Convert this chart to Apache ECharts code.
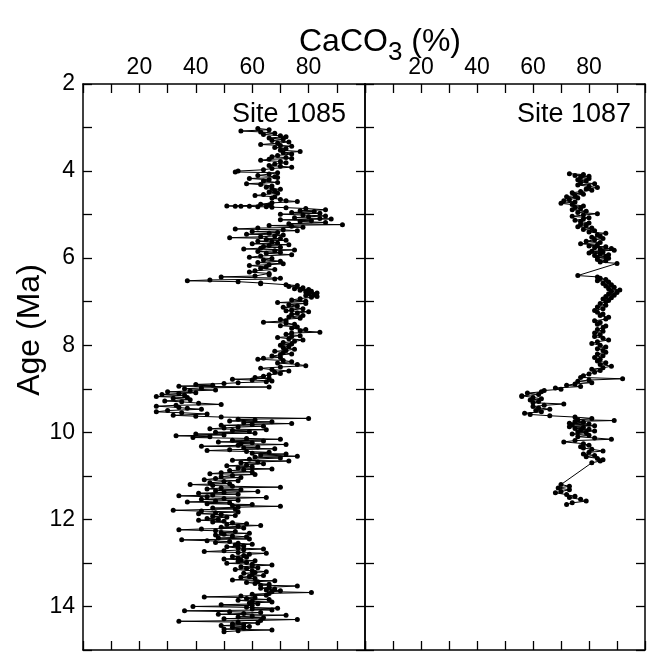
<!DOCTYPE html>
<html><head><meta charset="utf-8">
<script src="https://cdn.jsdelivr.net/npm/echarts@6/dist/echarts.min.js"></script>
<style>html,body{margin:0;padding:0;background:#fff}#c{width:648px;height:653px}</style>
</head><body><div id="c"></div>
<script>
// Tick labels
var xTickLabels = [20, 40, 60, 80];
var yTickLabels = [2, 4, 6, 8, 10, 12, 14];
var siteNames = ['Site 1085', 'Site 1087'];

// Site 1085: [age (Ma), CaCO3 (%)]
var site1085 = [
[3.02,62],[3.05,66],[3.08,56],[3.10,63],[3.13,68],[3.16,64],[3.19,70],[3.21,72],[3.24,66],[3.27,71],[3.30,67],[3.33,73],[3.36,69],[3.39,63],[3.41,70],[3.43,74],[3.46,68],[3.49,72],[3.52,70],[3.55,77],[3.58,71],[3.61,74],[3.64,69],[3.67,67],[3.69,72],[3.71,74],[3.73,66],[3.75,63],[3.78,70],[3.81,72],[3.84,68],[3.87,66],[3.89,70],[3.91,74],[3.94,67],[3.97,64],[4.00,55],[4.02,54],[4.04,69],[4.07,66],[4.10,62],[4.13,68],[4.15,69],[4.17,59],[4.20,66],[4.23,64],[4.26,69],[4.29,58],[4.31,63],[4.34,67],[4.37,65],[4.40,67],[4.42,70],[4.45,68],[4.48,66],[4.51,69],[4.54,64],[4.56,61],[4.59,68],[4.62,67],[4.65,70],[4.68,72],[4.70,76],[4.73,67],[4.76,63],[4.78,66],
[4.80,51],[4.81,54],[4.81,56],[4.81,59],[4.82,62],[4.82,65],[4.83,67],[4.84,72],[4.86,79],[4.89,86],[4.91,77],[4.93,82],[4.95,74],[4.97,84],[4.99,70],[5.01,78],[5.03,86],[5.05,80],[5.07,75],[5.09,84],[5.10,88],[5.12,70],[5.14,81],[5.16,77],[5.18,86],[5.21,73],[5.23,92],[5.25,66],[5.27,74],[5.29,78],[5.31,62],[5.33,54],[5.35,71],[5.37,76],[5.39,60],[5.41,69],[5.43,66],[5.45,58],[5.47,71],[5.49,68],[5.51,63],[5.53,52],[5.55,70],[5.57,65],[5.59,72],[5.61,62],[5.63,67],[5.65,69],[5.67,60],[5.69,73],[5.71,66],[5.73,64],[5.75,70],[5.77,63],[5.79,57],[5.81,75],[5.83,68],[5.85,62],[5.87,70],[5.89,65],[5.92,74],[5.95,63],[5.98,59],
[6.01,67],[6.04,64],[6.07,70],[6.10,62],[6.13,71],[6.15,66],[6.17,59],[6.20,65],[6.23,63],[6.26,68],[6.29,61],[6.32,59],[6.35,66],[6.38,66],[6.41,61],[6.43,49],[6.46,70],[6.48,68],[6.50,45],[6.52,37],[6.54,55],[6.57,63],[6.59,63],[6.61,72],[6.63,76],[6.65,73],[6.68,78],[6.70,75],[6.72,80],[6.74,77],[6.76,81],[6.78,79],[6.80,83],[6.82,80],[6.84,82],[6.86,79],[6.88,83],[6.90,81],[6.93,77],[6.96,74],[6.99,79],
[7.02,69],[7.04,79],[7.07,73],[7.10,76],[7.13,71],[7.16,78],[7.19,74],[7.21,72],[7.23,80],[7.26,76],[7.29,74],[7.32,78],[7.35,73],[7.38,77],[7.41,70],[7.44,72],[7.47,64],[7.49,72],[7.52,75],[7.55,70],[7.58,76],[7.61,74],[7.64,79],[7.67,77],[7.70,84],[7.72,74],[7.75,72],[7.78,77],[7.80,74],[7.82,69],[7.85,73],[7.88,78],[7.91,75],[7.94,71],[7.97,74],
[8.00,70],[8.03,73],[8.06,71],[8.09,75],[8.12,72],[8.14,68],[8.17,71],[8.20,74],[8.22,70],[8.25,67],[8.28,70],[8.30,64],[8.32,62],[8.35,71],[8.38,74],[8.41,69],[8.44,76],[8.47,79],[8.50,70],[8.53,63],[8.56,67],[8.59,73],[8.62,68],[8.65,70],[8.68,66],[8.71,64],[8.74,61],[8.76,66],[8.78,53],[8.80,60],[8.82,67],[8.84,65],[8.86,55],[8.88,50],[8.90,40],[8.92,46],[8.94,34],[8.96,66],[8.98,42],
[9.00,36],[9.03,47],[9.05,38],[9.07,30],[9.09,40],[9.11,34],[9.13,28],[9.15,36],[9.18,26],[9.20,37],[9.22,32],[9.25,38],[9.28,29],[9.30,35],[9.33,41],[9.36,49],[9.38,33],[9.40,26],[9.43,34],[9.45,37],[9.47,42],[9.50,30],[9.53,26],[9.55,35],[9.58,44],[9.61,32],[9.63,40],[9.65,49],[9.68,80],[9.70,55],[9.72,61],[9.74,52],[9.76,67],[9.78,57],[9.80,74],[9.82,60],[9.84,49],[9.86,64],[9.88,55],[9.90,50],[9.92,45],[9.94,65],[9.96,53],[9.98,59],
[10.00,47],[10.02,61],[10.04,40],[10.06,50],[10.08,33],[10.10,45],[10.12,39],[10.14,58],[10.16,70],[10.18,53],[10.20,64],[10.22,48],[10.24,60],[10.26,56],[10.28,72],[10.30,55],[10.32,42],[10.34,62],[10.36,57],[10.38,68],[10.40,52],[10.42,44],[10.44,58],[10.46,66],[10.48,60],[10.50,72],[10.52,63],[10.55,76],[10.57,61],[10.59,70],[10.62,59],[10.64,53],[10.66,73],[10.68,62],[10.70,56],[10.72,64],[10.75,58],[10.77,51],[10.79,60],[10.82,55],[10.84,67],[10.86,57],[10.88,52],[10.91,60],[10.93,49],[10.95,45],[10.97,61],[10.99,53],
[11.02,49],[11.04,56],[11.06,47],[11.09,43],[11.11,55],[11.13,50],[11.16,45],[11.18,52],[11.20,38],[11.22,46],[11.24,53],[11.26,70],[11.28,49],[11.30,44],[11.32,56],[11.34,47],[11.36,62],[11.38,50],[11.40,41],[11.42,55],[11.44,46],[11.46,34],[11.48,44],[11.50,65],[11.52,50],[11.54,42],[11.56,55],[11.58,47],[11.60,37],[11.62,52],[11.64,44],[11.66,60],[11.68,53],[11.70,70],[11.72,55],[11.74,46],[11.76,54],[11.79,32],[11.81,42],[11.83,55],[11.85,47],[11.87,41],[11.89,49],[11.91,54],[11.93,46],[11.95,51],[11.98,44],
[12.00,48],[12.02,41],[12.04,50],[12.06,46],[12.08,53],[12.10,58],[12.12,51],[12.14,63],[12.16,55],[12.18,49],[12.20,57],[12.22,42],[12.24,34],[12.26,47],[12.28,54],[12.30,49],[12.32,59],[12.34,50],[12.36,47],[12.38,53],[12.40,58],[12.43,48],[12.45,59],[12.47,35],[12.49,44],[12.51,52],[12.53,47],[12.55,55],[12.57,60],[12.59,54],[12.61,57],[12.63,51],[12.66,55],[12.68,64],[12.70,57],[12.72,50],[12.74,43],[12.76,55],[12.78,65],[12.80,59],[12.83,57],[12.85,53],[12.87,58],[12.89,55],[12.91,50],[12.93,56],[12.95,61],[12.97,55],[12.99,58],
[13.01,51],[13.03,60],[13.05,67],[13.07,60],[13.09,56],[13.11,62],[13.13,58],[13.15,54],[13.18,60],[13.20,65],[13.22,61],[13.24,57],[13.27,60],[13.29,64],[13.31,59],[13.33,56],[13.36,61],[13.39,53],[13.41,68],[13.43,62],[13.45,58],[13.47,61],[13.49,66],[13.51,63],[13.53,76],[13.56,66],[13.58,63],[13.60,68],[13.62,65],[13.64,70],[13.66,67],[13.68,81],[13.70,66],[13.72,60],[13.74,65],[13.76,56],[13.78,43],[13.80,61],[13.82,58],[13.84,66],[13.86,55],[13.88,60],[13.90,67],[13.92,59],[13.94,62],[13.96,49],[13.98,60],
[14.00,39],[14.02,58],[14.04,69],[14.06,60],[14.08,67],[14.10,36],[14.12,52],[14.14,63],[14.16,57],[14.18,48],[14.20,72],[14.22,60],[14.24,55],[14.26,64],[14.28,50],[14.30,76],[14.32,63],[14.34,34],[14.36,55],[14.38,62],[14.40,53],[14.42,57],[14.44,49],[14.46,59],[14.48,53],[14.50,57],[14.52,50],[14.54,67],[14.56,55],[14.58,50]
];

// Site 1087: [age (Ma), CaCO3 (%)]
var site1087 = [
[4.06,73],[4.08,78],[4.10,75],[4.12,80],[4.14,77],[4.17,80],[4.20,76],[4.23,79],[4.26,77],[4.29,82],[4.32,76],[4.35,80],[4.38,83],[4.41,79],[4.44,81],[4.47,77],[4.50,74],[4.53,78],[4.56,75],[4.59,72],[4.62,76],[4.65,73],[4.68,71],[4.71,75],[4.74,70],[4.77,74],[4.80,78],[4.83,75],[4.86,77],[4.89,74],[4.92,79],[4.95,76],[4.98,83],
[5.01,78],[5.04,74],[5.07,80],[5.10,78],[5.13,75],[5.16,77],[5.19,80],[5.22,77],[5.25,79],[5.28,76],[5.31,81],[5.34,78],[5.37,82],[5.40,80],[5.43,86],[5.46,83],[5.49,84],[5.52,81],[5.55,85],[5.58,82],[5.61,79],[5.64,84],[5.67,77],[5.70,83],[5.72,80],[5.74,86],[5.76,82],[5.78,88],[5.80,84],[5.82,89],[5.84,81],[5.86,85],[5.88,80],[5.90,84],[5.92,87],[5.94,82],[5.96,86],[5.98,83],
[6.00,87],[6.03,83],[6.06,86],[6.09,84],[6.12,90],[6.40,76],[6.43,83],[6.46,84],[6.49,86],[6.52,83],[6.55,87],[6.58,85],[6.61,88],[6.64,86],[6.67,89],[6.70,87],[6.73,91],[6.76,88],[6.79,90],[6.82,87],[6.85,89],[6.88,86],[6.91,88],[6.94,85],[6.97,87],
[7.00,86],[7.04,84],[7.08,86],[7.12,83],[7.16,85],[7.20,82],[7.24,83],[7.28,85],[7.32,84],[7.36,87],[7.40,86],[7.44,82],[7.48,84],[7.52,83],[7.56,86],[7.60,85],[7.64,83],[7.68,85],[7.72,82],[7.76,84],[7.80,82],[7.84,85],[7.88,87],[7.92,83],[7.96,81],
[8.00,84],[8.04,86],[8.08,83],[8.12,85],[8.16,86],[8.20,83],[8.24,85],[8.28,82],[8.32,84],[8.36,83],[8.40,86],[8.44,84],[8.48,88],[8.52,85],[8.55,81],[8.58,84],[8.62,82],[8.66,80],[8.70,78],[8.74,77],[8.77,92],[8.80,80],[8.83,76],[8.86,81],[8.89,75],[8.92,72],[8.95,77],[8.98,68],
[9.01,70],[9.04,64],[9.07,63],[9.10,58],[9.13,62],[9.16,56],[9.18,56],[9.20,60],[9.23,63],[9.26,59],[9.29,62],[9.32,60],[9.35,71],[9.38,64],[9.41,60],[9.44,62],[9.47,66],[9.50,61],[9.53,63],[9.56,57],[9.59,59],[9.62,66],[9.65,75],[9.68,81],[9.71,76],[9.73,89],[9.75,75],[9.77,78],[9.79,73],[9.81,80],[9.83,74],[9.85,82],[9.87,73],[9.89,78],[9.91,75],[9.93,80],[9.95,77],[9.97,82],[9.99,76],
[10.01,79],[10.04,74],[10.07,80],[10.10,76],[10.13,82],[10.16,88],[10.19,75],[10.22,71],[10.26,78],[10.30,80],[10.33,77],[10.36,78],[10.39,81],[10.43,85],[10.46,80],[10.50,78],[10.53,82],[10.56,79],[10.60,83],[10.63,85],[10.66,84],[10.70,81],
[11.20,70],[11.24,73],[11.28,69],[11.32,73],[11.36,70],[11.39,68],[11.43,72],[11.47,75],[11.50,73],[11.54,77],[11.58,79],[11.62,74],[11.66,72]
];

var FONT = '"Liberation Sans", Arial, Helvetica, sans-serif';
var chart = echarts.init(document.getElementById('c'), null, {renderer: 'canvas'});

function xAx(gridIndex, position, showLabels) {
  return {
    type: 'value', gridIndex: gridIndex, position: position, min: 0, max: 100, interval: 10,
    axisLine: {show: true, onZero: false, lineStyle: {color: '#000', width: 1.5}},
    axisTick: {show: true, inside: true, length: 9, lineStyle: {color: '#000', width: 1.3}},
    axisLabel: {show: showLabels, margin: 5, fontSize: 23, color: '#000', fontFamily: FONT,
      formatter: function (v) { return xTickLabels.indexOf(v) >= 0 ? String(v) : ''; }},
    splitLine: {show: false}
  };
}
function yAx(gridIndex, position, showLabels) {
  return {
    type: 'value', gridIndex: gridIndex, position: position, min: 2, max: 15, interval: 1, inverse: true,
    axisLine: {show: true, onZero: false, lineStyle: {color: '#000', width: 1.5}},
    axisTick: {show: true, inside: true, length: 9, lineStyle: {color: '#000', width: 1.3}},
    axisLabel: {show: showLabels, margin: 8, fontSize: 23, color: '#000', fontFamily: FONT,
      formatter: function (v) { return yTickLabels.indexOf(v) >= 0 ? String(v) : ''; }},
    splitLine: {show: false}
  };
}
function toXY(arr) { return arr.map(function (d) { return [d[1], d[0]]; }); }

var seriesStyle = {
  type: 'line', symbol: 'circle', symbolSize: 5, showSymbol: true, showAllSymbol: true,
  itemStyle: {color: '#000'}, lineStyle: {color: '#000', width: 1}, animation: false, clip: true
};

chart.setOption({
  animation: false,
  backgroundColor: '#fff',
  graphic: [
    {type: 'text', x: 380, y: 46,
     style: {text: '{a|CaCO}{s|3}{a| (%)}', align: 'center', verticalAlign: 'middle',
       rich: {
         a: {fontSize: 32, fontFamily: FONT, fill: '#000', verticalAlign: 'top', padding: [0, 0, 0, 0]},
         s: {fontSize: 26, fontFamily: FONT, fill: '#000', verticalAlign: 'top', padding: [14, 0, 0, 0]}
       }}},
    {type: 'text', x: 30, y: 330, rotation: Math.PI / 2,
     style: {text: 'Age (Ma)', fontSize: 32, fontFamily: FONT, fill: '#000', align: 'center', verticalAlign: 'middle'}},
    {type: 'text', x: 346, y: 115,
     style: {text: siteNames[0], fontSize: 27, fontFamily: FONT, fill: '#000', align: 'right', verticalAlign: 'middle'}},
    {type: 'text', x: 631, y: 115,
     style: {text: siteNames[1], fontSize: 27, fontFamily: FONT, fill: '#000', align: 'right', verticalAlign: 'middle'}}
  ],
  grid: [
    {left: 83, top: 84, width: 282, height: 566},
    {left: 365, top: 84, width: 284, height: 566}
  ],
  xAxis: [xAx(0, 'top', true), xAx(0, 'bottom', false), xAx(1, 'top', true), xAx(1, 'bottom', false)],
  yAxis: [yAx(0, 'left', true), yAx(0, 'right', false), yAx(1, 'left', false), yAx(1, 'right', false)],
  series: [
    Object.assign({name: siteNames[0], xAxisIndex: 0, yAxisIndex: 0, data: toXY(site1085)}, seriesStyle),
    Object.assign({name: siteNames[1], xAxisIndex: 2, yAxisIndex: 2, data: toXY(site1087)}, seriesStyle)
  ]
});
</script></body></html>
